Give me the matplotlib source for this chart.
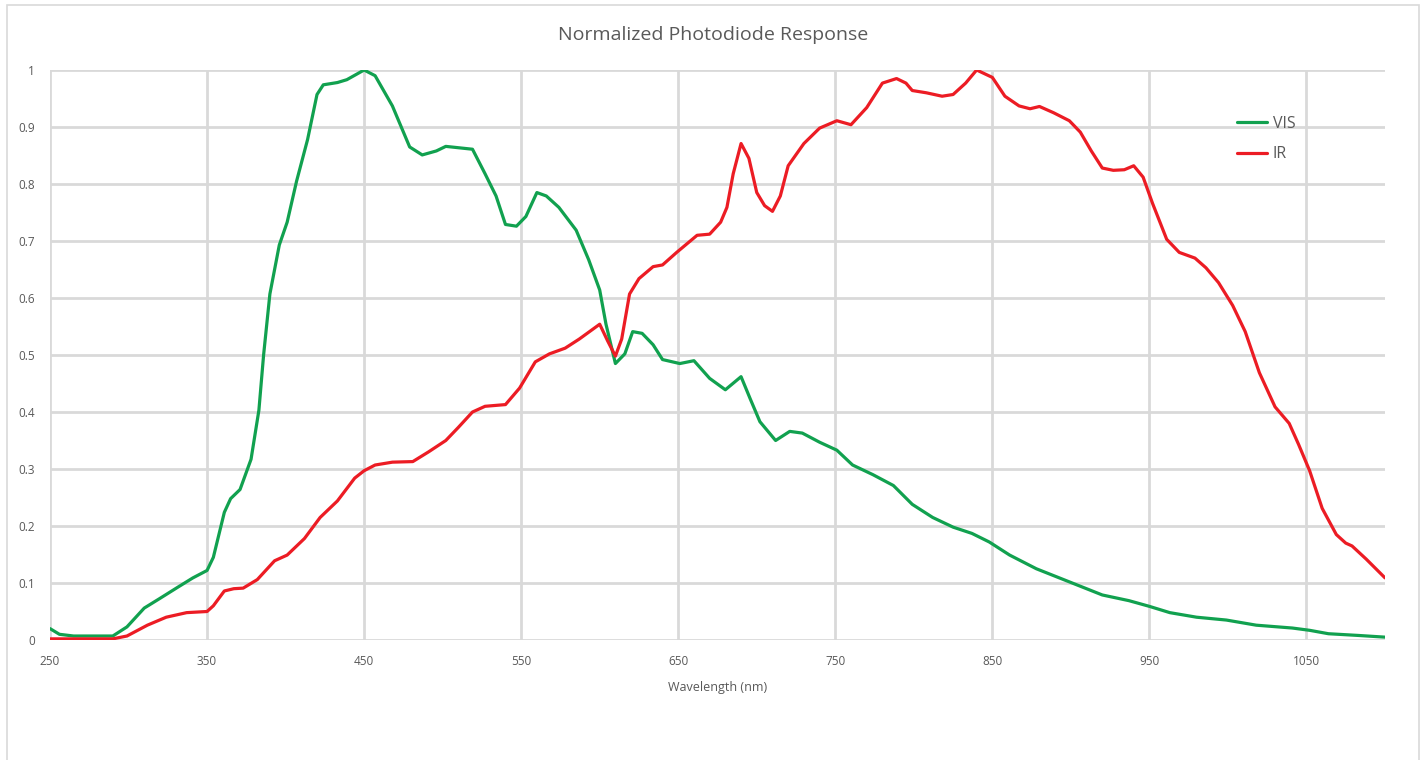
import matplotlib.pyplot as plt
from matplotlib.patches import Rectangle

# VIS photodiode (green)
vis_nm = [250, 256, 265, 290, 299, 310, 320, 331, 341, 350, 354, 361, 365, 371, 378, 383, 386,
          390, 396, 401, 407, 414, 420, 424, 433, 439, 450, 457, 468, 479, 487, 496, 502, 519,
          527, 534, 540, 547, 553, 560, 566, 574, 585, 593, 600, 604, 610, 616, 621, 627, 634,
          640, 651, 660, 670, 680, 690, 696, 702, 712, 721, 729, 740, 751, 761, 774, 787, 799,
          812, 825, 837, 848, 861, 878, 899, 920, 937, 950, 963, 980, 999, 1018, 1041, 1052,
          1064, 1083, 1100]
vis_resp = [0.020, 0.010, 0.007, 0.007, 0.023, 0.056, 0.073, 0.092, 0.109, 0.122, 0.145, 0.224,
            0.248, 0.264, 0.317, 0.403, 0.500, 0.607, 0.693, 0.733, 0.805, 0.878, 0.957, 0.974,
            0.978, 0.983, 1.000, 0.990, 0.937, 0.865, 0.851, 0.858, 0.866, 0.861, 0.818, 0.779,
            0.729, 0.726, 0.743, 0.785, 0.779, 0.759, 0.719, 0.667, 0.614, 0.554, 0.485, 0.502,
            0.541, 0.538, 0.518, 0.492, 0.485, 0.490, 0.459, 0.439, 0.462, 0.422, 0.383, 0.350,
            0.366, 0.363, 0.347, 0.333, 0.307, 0.290, 0.271, 0.238, 0.215, 0.198, 0.187, 0.172,
            0.149, 0.125, 0.102, 0.079, 0.069, 0.059, 0.048, 0.040, 0.035, 0.026, 0.021, 0.017,
            0.011, 0.008, 0.005]

# IR photodiode (red)
ir_nm = [250, 290, 299, 312, 324, 337, 350, 354, 361, 367, 373, 382, 393, 401, 412, 422, 433,
         444, 450, 457, 468, 481, 491, 502, 510, 519, 527, 540, 549, 559, 568, 578, 587, 600,
         605, 610, 614, 619, 625, 634, 640, 649, 662, 670, 677, 681, 685, 690, 695, 700, 705,
         710, 715, 720, 730, 740, 751, 760, 770, 780, 789, 795, 799, 808, 818, 825, 833, 840,
         850, 858, 867, 874, 880, 889, 899, 906, 913, 920, 927, 934, 940, 946, 952, 961, 969,
         979, 986, 994, 1003, 1011, 1020, 1030, 1039, 1045, 1052, 1060, 1069, 1075, 1079, 1088,
         1100]
ir_resp = [0.002, 0.002, 0.007, 0.026, 0.040, 0.048, 0.050, 0.060, 0.086, 0.090, 0.091, 0.106,
           0.139, 0.149, 0.178, 0.215, 0.244, 0.284, 0.297, 0.307, 0.312, 0.313, 0.330, 0.350,
           0.373, 0.400, 0.410, 0.413, 0.442, 0.488, 0.502, 0.512, 0.528, 0.554, 0.525, 0.498,
           0.528, 0.607, 0.634, 0.655, 0.658, 0.680, 0.710, 0.712, 0.733, 0.759, 0.818, 0.871,
           0.845, 0.785, 0.762, 0.752, 0.779, 0.832, 0.871, 0.898, 0.911, 0.904, 0.934, 0.977,
           0.985, 0.977, 0.964, 0.960, 0.954, 0.957, 0.977, 1.000, 0.987, 0.954, 0.937, 0.932,
           0.936, 0.925, 0.911, 0.891, 0.858, 0.828, 0.824, 0.825, 0.832, 0.812, 0.766, 0.703,
           0.680, 0.670, 0.653, 0.627, 0.587, 0.541, 0.469, 0.409, 0.380, 0.343, 0.297, 0.231,
           0.185, 0.170, 0.165, 0.142, 0.109]

x_ticks = [250, 350, 450, 550, 650, 750, 850, 950, 1050]
y_ticks = [0, 0.1, 0.2, 0.3, 0.4, 0.5, 0.6, 0.7, 0.8, 0.9, 1]
y_labels = ['0', '0.1', '0.2', '0.3', '0.4', '0.5', '0.6', '0.7', '0.8', '0.9', '1']

plt.rcParams['font.family'] = ['Open Sans', 'DejaVu Sans']
txt = '#595959'
grid = '#d9d9d9'

fig = plt.figure(figsize=(14.26, 7.6), dpi=100)
# light outer frame like the chart area border
fig.patches.append(Rectangle((7 / 1426, -0.01), 1412 / 1426, 1 - 5 / 760 + 0.01,
                             transform=fig.transFigure, fill=False, edgecolor=grid, lw=1.2))

ax = fig.add_axes([50 / 1426, 120 / 760, 1335 / 1426, 570 / 760])
ax.plot(vis_nm, vis_resp, color='#11a14f', lw=2.3, label='VIS', zorder=3,
        solid_joinstyle='round', solid_capstyle='round')
ax.plot(ir_nm, ir_resp, color='#ec1c24', lw=2.3, label='IR', zorder=3,
        solid_joinstyle='round', solid_capstyle='round')

ax.set_xlim(250, 1100)
ax.set_ylim(0, 1)
ax.set_xticks(x_ticks)
ax.set_yticks(y_ticks)
ax.set_yticklabels(y_labels)
ax.tick_params(length=0, labelsize=8.5, colors=txt)
ax.tick_params(axis='y', pad=11)
ax.tick_params(axis='x', pad=11)
ax.grid(True, color=grid, lw=2)
ax.set_axisbelow(True)
for s in ax.spines.values():
    s.set_visible(False)

fig.text(713 / 1426, 1 - 35 / 760, 'Normalized Photodiode Response', ha='center', va='center',
         fontsize=14, color=txt)
ax.set_xlabel('Wavelength (nm)', fontsize=9, color=txt, labelpad=9)

ax.legend(loc='upper left', bbox_to_anchor=(1237 / 1426, 1 - 116 / 760),
          bbox_transform=fig.transFigure, frameon=False, fontsize=11.5,
          handlelength=1.9, handletextpad=0.35, labelspacing=0.9, borderpad=0,
          borderaxespad=0, labelcolor=txt)

plt.savefig('out.png', dpi=100)
